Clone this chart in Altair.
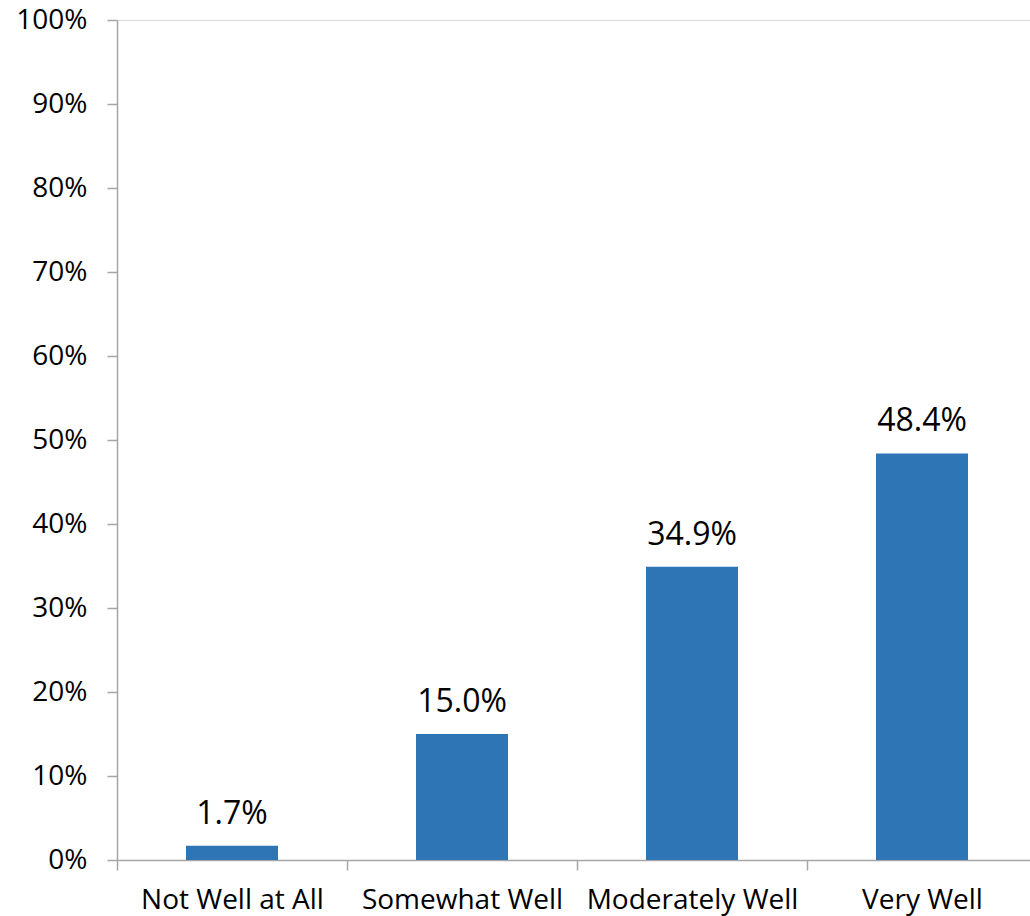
import altair as alt
import pandas as pd

categories = ["Not Well at All", "Somewhat Well", "Moderately Well", "Very Well"]
values = [0.017, 0.150, 0.349, 0.484]

df = pd.DataFrame({"category": categories, "value": values})

FONT = "Open Sans"
AX = "#A6A6A6"
FS = 28
FS_LABEL = 32

x = alt.X(
    "category:N",
    sort=categories,
    scale=alt.Scale(range=[0, 920], paddingInner=0, paddingOuter=0),
    axis=alt.Axis(
        title=None,
        labelAngle=0,
        ticks=True,
        tickBand="extent",
        domainColor=AX,
        tickColor=AX,
        tickWidth=1.5,
        domainWidth=1.5,
        tickSize=10,
        labelPadding=16,
        labelLimit=0,
        labelFontSize=FS,
        labelFont=FONT,
        labelColor="#000000",
    ),
)
y = alt.Y(
    "value:Q",
    scale=alt.Scale(domain=[0, 1]),
    axis=alt.Axis(
        title=None,
        values=[i / 10 for i in range(11)],
        format=".0%",
        grid=False,
        ticks=True,
        domainColor=AX,
        tickColor=AX,
        tickWidth=1.5,
        domainWidth=1.5,
        tickSize=10,
        labelPadding=20,
        labelFontSize=FS,
        labelFont=FONT,
        labelColor="#000000",
    ),
)

bars = alt.Chart(df).mark_bar(
    color="#2E75B6", width=alt.RelativeBandSize(0.4)
).encode(x=x, y=y)
labels = alt.Chart(df).mark_text(
    baseline="alphabetic", dy=-22, fontSize=FS_LABEL, font=FONT, color="#000000"
).encode(x=x, y=y, text=alt.Text("value:Q", format=".1%"))

chart = (
    (bars + labels)
    .properties(
        width=913,
        height=840,
        autosize=alt.AutoSizeParams(type="none"),
        padding={"left": 117, "top": 20, "right": 0, "bottom": 56},
    )
    .configure_view(stroke=None)
    .configure(background="white")
)

chart.save("out.html", embed_options={"renderer": "svg", "actions": False})
